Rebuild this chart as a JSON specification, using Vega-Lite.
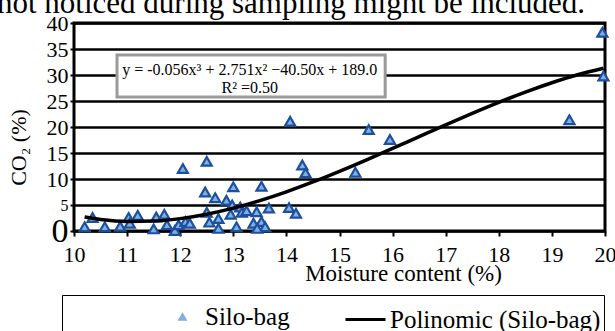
{
  "$schema": "https://vega.github.io/schema/vega-lite/v6.json",
  "width": 531,
  "height": 208,
  "autosize": {"type": "none"},
  "padding": {"left": 74, "top": 23, "right": 10, "bottom": 100},
  "background": "white",
  "title": {
    "text": "not noticed during sampling might be included.",
    "anchor": "start",
    "frame": "group",
    "font": "Liberation Serif",
    "fontSize": 31,
    "fontWeight": "normal",
    "color": "black",
    "dx": -77,
    "dy": 15,
    "offset": -24,
    "baseline": "bottom"
  },
  "config": {
    "view": {"stroke": "black", "strokeWidth": 3},
    "font": "Liberation Serif"
  },
  "datasets": {
    "points": [
      {"x": 10.2, "y": 0.8}, {"x": 10.35, "y": 2.6}, {"x": 10.58, "y": 0.8}, {"x": 10.87, "y": 0.9},
      {"x": 11.03, "y": 2.6}, {"x": 11.2, "y": 3.0}, {"x": 11.05, "y": 1.5}, {"x": 11.5, "y": 0.4},
      {"x": 11.55, "y": 2.7}, {"x": 11.7, "y": 3.2}, {"x": 11.75, "y": 1.2}, {"x": 11.9, "y": 0.1},
      {"x": 11.97, "y": 1.2}, {"x": 12.05, "y": 12.0}, {"x": 12.1, "y": 1.8}, {"x": 12.18, "y": 1.5},
      {"x": 12.5, "y": 13.4}, {"x": 12.47, "y": 7.5}, {"x": 12.66, "y": 6.4}, {"x": 12.87, "y": 5.9},
      {"x": 13.0, "y": 8.5}, {"x": 12.98, "y": 5.0}, {"x": 12.5, "y": 3.6}, {"x": 12.55, "y": 1.7},
      {"x": 12.72, "y": 2.4}, {"x": 12.72, "y": 0.5}, {"x": 12.95, "y": 3.2}, {"x": 13.06, "y": 0.8},
      {"x": 13.13, "y": 4.6}, {"x": 13.16, "y": 3.6}, {"x": 13.25, "y": 3.9}, {"x": 13.44, "y": 3.7},
      {"x": 13.38, "y": 1.5}, {"x": 13.53, "y": 1.8}, {"x": 13.6, "y": 0.8}, {"x": 13.45, "y": 0.5},
      {"x": 13.53, "y": 8.6}, {"x": 13.67, "y": 4.4}, {"x": 14.05, "y": 4.5}, {"x": 14.18, "y": 3.4},
      {"x": 14.07, "y": 21.1}, {"x": 14.3, "y": 12.7}, {"x": 14.36, "y": 11.2}, {"x": 15.3, "y": 11.3},
      {"x": 15.55, "y": 19.5}, {"x": 15.95, "y": 17.6}, {"x": 19.33, "y": 21.4}, {"x": 19.95, "y": 38.2},
      {"x": 19.97, "y": 29.8}
    ],
    "curve": [
      {"x": 10.2, "y": 2.69}, {"x": 10.5, "y": 2.22}, {"x": 11, "y": 1.84}, {"x": 11.5, "y": 1.9},
      {"x": 12, "y": 2.38}, {"x": 12.5, "y": 3.22}, {"x": 13, "y": 4.39}, {"x": 13.5, "y": 5.84},
      {"x": 14, "y": 7.53}, {"x": 14.5, "y": 9.43}, {"x": 15, "y": 11.48}, {"x": 15.5, "y": 13.64},
      {"x": 16, "y": 15.88}, {"x": 16.5, "y": 18.15}, {"x": 17, "y": 20.41}, {"x": 17.5, "y": 22.62},
      {"x": 18, "y": 24.73}, {"x": 18.5, "y": 26.71}, {"x": 19, "y": 28.51}, {"x": 19.5, "y": 30.09},
      {"x": 19.97, "y": 31.3}
    ]
  },
  "layer": [
    {
      "data": {"name": "points"},
      "mark": {"type": "point", "filled": true, "fill": "#7fb0e2", "stroke": "#1d4f9f", "size": 100, "strokeWidth": 2.2, "opacity": 1},
      "encoding": {
        "x": {
          "field": "x", "type": "quantitative",
          "scale": {"domain": [10, 20], "nice": false, "zero": false},
          "axis": {
            "values": [10, 11, 12, 13, 14, 15, 16, 17, 18, 19, 20],
            "tickCount": 30, "format": "d",
            "title": "Moisture content (%)",
            "titleFont": "Liberation Serif", "titleFontSize": 23, "titleFontWeight": "normal", "titleColor": "black",
            "titleX": 329, "titlePadding": -3,
            "labelFont": "Liberation Serif", "labelFontSize": 22, "labelColor": "black", "labelPadding": 8,
            "labelFlush": false, "labelOverlap": false,
            "tickSize": 5, "tickWidth": 2, "tickColor": "black",
            "domain": false, "grid": false
          }
        },
        "y": {
          "field": "y", "type": "quantitative",
          "scale": {"domain": [0, 40], "nice": false},
          "axis": {
            "values": [0, 5, 10, 15, 20, 25, 30, 35, 40],
            "tickCount": 30, "format": "d",
            "title": "CO₂ (%)",
            "titleFont": "Liberation Serif", "titleFontSize": 22, "titleFontWeight": "normal", "titleColor": "black",
            "titlePadding": 16, "titleY": 124,
            "labelFont": "Liberation Serif", "labelColor": "black", "labelPadding": 2,
            "labelFontSize": {"condition": [{"test": "datum.value == 0", "value": 34}, {"test": "datum.value == 5", "value": 16}], "value": 22},
            "labelFlush": false, "labelOverlap": false,
            "tickSize": 4, "tickWidth": 2, "tickColor": "black",
            "domain": false, "grid": true, "gridColor": "black", "gridWidth": 2.5, "gridOpacity": 1
          }
        },
        "shape": {
          "datum": "Silo-bag", "type": "nominal",
          "scale": {"domain": ["Silo-bag"], "range": ["triangle-up"]},
          "legend": {
            "orient": "none", "legendX": 96, "legendY": 281,
            "direction": "horizontal", "title": null,
            "labelFont": "Liberation Serif", "labelFontSize": 25, "labelColor": "black", "labelOffset": 10, "labelLimit": 400,
            "symbolSize": 100, "symbolFillColor": "#1d4f9f", "symbolStrokeColor": "#1d4f9f", "symbolStrokeWidth": 1,
            "padding": 0
          }
        }
      }
    },
    {
      "data": {"name": "curve"},
      "mark": {"type": "line", "strokeWidth": 3.5, "interpolate": "monotone"},
      "encoding": {
        "x": {"field": "x", "type": "quantitative"},
        "y": {"field": "y", "type": "quantitative"},
        "stroke": {
          "datum": "Polinomic (Silo-bag)", "type": "nominal",
          "scale": {"domain": ["Polinomic (Silo-bag)"], "range": ["#000000"]},
          "legend": {
            "orient": "none", "legendX": -12, "legendY": 272,
            "direction": "horizontal",
            "title": "x", "titleOrient": "left", "titleColor": "white", "titleFontSize": 18, "titlePadding": 270,
            "labelFont": "Liberation Serif", "labelFontSize": 25, "labelColor": "black", "labelOffset": 3, "labelLimit": 400,
            "symbolSize": 1600, "symbolStrokeWidth": 3,
            "padding": 3,
            "strokeColor": "black"
          }
        }
      }
    },
    {
      "data": {"values": [{}]},
      "mark": {"type": "rect", "fill": "white", "stroke": "#9a9a9a", "strokeWidth": 3},
      "encoding": {
        "x": {"datum": 10.81, "type": "quantitative"},
        "x2": {"datum": 15.86},
        "y": {"datum": 33.85, "type": "quantitative"},
        "y2": {"datum": 25.77}
      }
    },
    {
      "data": {"values": [{}]},
      "mark": {
        "type": "text",
        "text": ["y = -0.056x³ + 2.751x² −40.50x + 189.0", "R² =0.50"],
        "font": "Liberation Serif", "fontSize": 16, "color": "black",
        "lineHeight": 18, "align": "center", "baseline": "middle"
      },
      "encoding": {
        "x": {"datum": 13.31, "type": "quantitative"},
        "y": {"datum": 30.96, "type": "quantitative"}
      }
    }
  ]
}
